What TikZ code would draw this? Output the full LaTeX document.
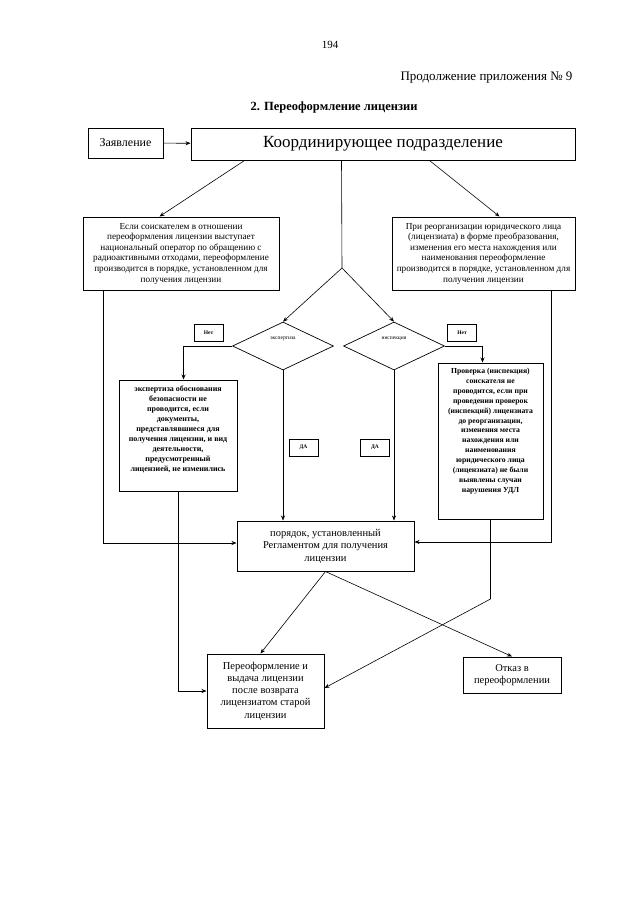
\documentclass[tikz,border=0pt]{standalone}
\usepackage{fontspec}
\setmainfont{Liberation Serif}
\usetikzlibrary{shapes.geometric,arrows.meta}
\begin{document}
\begin{tikzpicture}[x=1pt,y=-1pt,
  box/.style={draw,line width=1pt,inner sep=0pt,align=center},
  tag/.style={draw,line width=0.8pt,inner sep=0pt,minimum width=29pt,minimum height=17pt,font=\fontsize{5.5}{6}\selectfont\bfseries},
  dec/.style={draw,diamond,line width=0.7pt,inner sep=0pt,minimum width=101pt,minimum height=48pt},
  arr/.style={line width=0.6pt,-{Stealth[length=5pt,width=4pt]}},
  ln/.style={line width=0.6pt}]

\useasboundingbox (0,0) rectangle (640,905);

% header
\node[font=\fontsize{11}{13}\selectfont] (page) at (330,45) {194};
\node[anchor=east,font=\fontsize{13}{15}\selectfont] (cont) at (576,78) {Продолжение приложения № 9};
\node[font=\fontsize{12.5}{15}\selectfont\bfseries] (title) at (334,107) {2. Переоформление лицензии};

% boxes
\node[box,minimum width=75pt,minimum height=30pt,font=\fontsize{12}{14}\selectfont] (zayav) at (125.5,143) {Заявление};
\node[box,minimum width=384pt,minimum height=32pt,font=\fontsize{17}{19}\selectfont] (koord) at (383,144) {Координирующее подразделение};

\node[box,minimum width=196pt,minimum height=73pt,font=\fontsize{9.2}{10.6}\selectfont] (nacop) at (181,253.5)
  {Если соискателем в отношении\\ переоформления лицензии выступает\\ национальный оператор по обращению с\\ радиоактивными отходами, переоформление\\ производится в порядке, установленном для\\ получения лицензии};
\node[box,minimum width=183pt,minimum height=73pt,font=\fontsize{9.2}{10.6}\selectfont] (reorg) at (483.5,253.5)
  {При реорганизации юридического лица\\ (лицензиата) в форме преобразования,\\ изменения его места нахождения или\\ наименования переоформление\\ производится в порядке, установленном для\\ получения лицензии};

\coordinate (split) at (342,268);
\node[dec] (dexp) at (283,346) {};
\node[dec] (dins) at (394,346) {};
\node[font=\fontsize{5.5}{6}\selectfont] (lexp) at (283,339) {экспертиза};
\node[font=\fontsize{5.5}{6}\selectfont] (lins) at (394,339) {инспекция};

\node[tag] (net1) at (208.5,333) {Нет};
\node[tag] (net2) at (462,333) {Нет};
\node[tag] (da1) at (303.5,447.5) {ДА};
\node[tag] (da2) at (375,447.5) {ДА};

\node[box,minimum width=118pt,minimum height=111pt] (expert) at (178,435.5) {};
\node[anchor=north,align=center,inner sep=0pt,font=\fontsize{8}{10}\selectfont\bfseries] (experttext) at (178,386)
  {экспертиза обоснования\\ безопасности не\\ проводится, если\\ документы,\\ представлявшиеся для\\ получения лицензии, и вид\\ деятельности,\\ предусмотренный\\ лицензией, не изменились};

\node[box,minimum width=105pt,minimum height=156pt] (prov) at (490.5,441) {};
\node[anchor=north,align=center,inner sep=0pt,font=\fontsize{7.7}{9.9}\selectfont\bfseries] (provtext) at (490.5,368)
  {Проверка (инспекция)\\ соискателя не\\ проводится, если при\\ проведении проверок\\ (инспекций) лицензиата\\ до реорганизации,\\ изменения места\\ нахождения или\\ наименования\\ юридического лица\\ (лицензиата) не были\\ выявлены случаи\\ нарушения УДЛ};

\node[box,minimum width=177pt,minimum height=50pt,font=\fontsize{10.5}{12.5}\selectfont] (poryadok) at (325.5,546)
  {порядок, установленный\\ Регламентом для получения\\ лицензии};
\node[box,minimum width=117pt,minimum height=74pt,font=\fontsize{10.5}{12.3}\selectfont] (pereof) at (265.5,691)
  {Переоформление и\\ выдача лицензии\\ после возврата\\ лицензиатом старой\\ лицензии};
\node[box,minimum width=98pt,minimum height=36pt,font=\fontsize{10.5}{12.7}\selectfont] (otkaz) at (512,675)
  {Отказ в\\ переоформлении};

% connectors
\draw[arr] (zayav) -- (koord);
\draw[arr] ([xshift=54pt]koord.south west) -- ([xshift=77pt]nacop.north west);
\draw[arr] ([xshift=239pt]koord.south west) -- ([xshift=108pt]reorg.north west);
\draw[ln] ([xshift=151pt]koord.south west) -- (split);
\draw[arr] (split) -- (dexp.north);
\draw[arr] (split) -- (dins.north);

\draw[arr] (dexp.west) -| ([xshift=65pt]expert.north west);
\draw[arr] (dins.east) -| ([xshift=45pt]prov.north west);
\draw[arr] (dexp.south) -- (dexp.south |- poryadok.north);
\draw[arr] (dins.south) -- (dins.south |- poryadok.north);

\draw[arr] ([xshift=21pt]nacop.south west) |- ([yshift=3pt]poryadok.west);
\draw[arr] ([xshift=160pt]reorg.south west) |- ([yshift=4pt]poryadok.east);

\draw[arr] (expert.south) |- (pereof.west);
\coordinate (pbend) at (490.5,599);
\draw[arr] (prov.south) -- (pbend) -- ([yshift=3pt]pereof.east);
\draw[arr] (poryadok.south) -- ([xshift=54pt]pereof.north west);
\draw[arr] (poryadok.south) -- (otkaz.north);

\end{tikzpicture}
\end{document}
